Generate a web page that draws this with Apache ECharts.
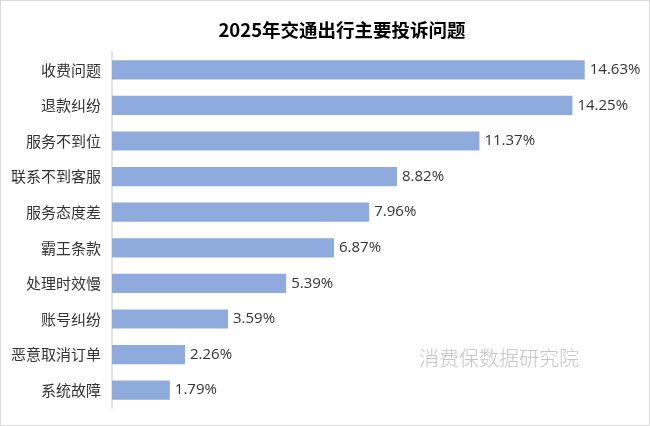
<!DOCTYPE html>
<html>
<head>
<meta charset="utf-8">
<script src="https://cdn.jsdelivr.net/npm/echarts@6/dist/echarts.min.js"></script>
<style>
html,body{margin:0;padding:0;background:#fff;}
#c{width:650px;height:426px;box-sizing:border-box;border:1px solid #d9d9d9;}
</style>
</head>
<body>
<div id="c"></div>
<script>
const title = '2025年交通出行主要投诉问题';
const categories = ['收费问题','退款纠纷','服务不到位','联系不到客服','服务态度差','霸王条款','处理时效慢','账号纠纷','恶意取消订单','系统故障'];
const values = [14.63, 14.25, 11.37, 8.82, 7.96, 6.87, 5.39, 3.59, 2.26, 1.79];
const watermark = '消费保数据研究院';

const chart = echarts.init(document.getElementById('c'), null, {renderer:'canvas'});
const font = '"Noto Sans CJK SC", "Noto Sans", sans-serif';
const numFont = '"Open Sans", "Noto Sans", sans-serif';
chart.setOption({
  animation:false,
  title:{
    text:title, left:336, top:15, textAlign:'center',
    textStyle:{fontFamily:font, fontSize:18.5, fontWeight:'bold', color:'#000'}
  },
  grid:{left:111, width:517, top:51, bottom:17, containLabel:false},
  xAxis:{type:'value', min:0, max:16, show:false, splitLine:{show:false}},
  yAxis:{
    type:'category', data:categories, inverse:true,
    axisLine:{show:true, lineStyle:{color:'#d9d9d9', width:1.5}},
    axisTick:{show:false},
    axisLabel:{margin:11, fontFamily:font, fontSize:15, color:'#333'}
  },
  series:[{
    type:'bar', data:values, barWidth:'54%',
    itemStyle:{color:'#8faadc'},
    label:{show:true, position:'right', distance:5, formatter:p=>p.value.toFixed(2)+'%',
      fontFamily:numFont, fontSize:15, color:'#333'}
  }],
  graphic:[{
    type:'text', left:418, top:347,
    style:{text:watermark, fontFamily:font, fontSize:20, fill:'#c4c4c4', fontWeight:300}
  }]
});
</script>
</body>
</html>
